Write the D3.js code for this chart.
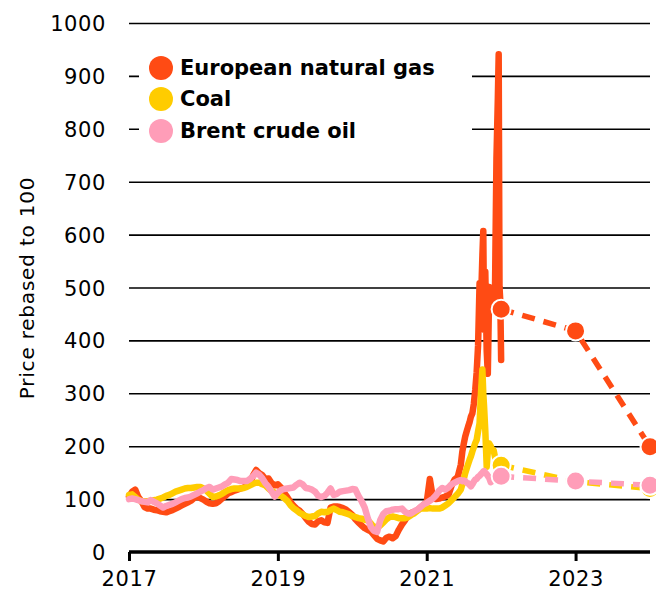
<!DOCTYPE html>
<html>
<head>
<meta charset="utf-8">
<script src="https://cdn.jsdelivr.net/npm/d3@7"></script>
<style>
  html, body { margin: 0; padding: 0; background: #fff; }
  svg { display: block; }
  text { font-family: "DejaVu Sans", sans-serif; fill: #000; }
</style>
</head>
<body>
<svg id="chart" width="656" height="592"></svg>
<script>
// ---- DATA ----
const seriesNames = ["European natural gas", "Coal", "Brent crude oil"];
const seriesColors = ["#ff4b14", "#ffcc00", "#ff9db8"];

// semi-monthly observations, Jan 2017 - mid 2021 (decimal years)
const datesSemi = [
  2017.000,2017.042,2017.083,2017.125,2017.167,2017.208,2017.250,2017.292,2017.333,2017.375,2017.417,2017.458,
  2017.500,2017.542,2017.583,2017.625,2017.667,2017.708,2017.750,2017.792,2017.833,2017.875,2017.917,2017.958,
  2018.000,2018.042,2018.083,2018.125,2018.167,2018.208,2018.250,2018.292,2018.333,2018.375,2018.417,2018.458,
  2018.500,2018.542,2018.583,2018.625,2018.667,2018.708,2018.750,2018.792,2018.833,2018.875,2018.917,2018.958,
  2019.000,2019.042,2019.083,2019.125,2019.167,2019.208,2019.250,2019.292,2019.333,2019.375,2019.417,2019.458,
  2019.500,2019.542,2019.583,2019.625,2019.667,2019.708,2019.750,2019.792,2019.833,2019.875,2019.917,2019.958,
  2020.000,2020.042,2020.083,2020.125,2020.167,2020.208,2020.250,2020.292,2020.333,2020.375,2020.417,2020.458,
  2020.500,2020.542,2020.583,2020.625,2020.667,2020.708,2020.750,2020.792,2020.833,2020.875,2020.917,2020.958,
  2021.000,2021.042,2021.083,2021.125,2021.167,2021.208,2021.250,2021.292,2021.333,2021.375,2021.417,2021.458
];
// weekly observations, mid 2021 - end 2021
const datesWeekly = [
  2021.479,2021.498,2021.517,2021.537,2021.556,2021.575,2021.594,2021.613,2021.633,2021.652,
  2021.671,2021.690,2021.710,2021.729,2021.748,2021.760,2021.771,2021.787,2021.806,2021.821,
  2021.840,2021.860,2021.879,2021.898,2021.917,2021.937,2021.956,2021.967,2021.978,2021.989,2022.000
];

const gasSemi = [
  105,114,118,104,96,85,82,82,80,79,77,76,
  75,77,79,82,85,88,91,94,97,102,105,102,
  99,95,92,91,92,96,101,106,111,113,116,118,
  120,122,125,128,145,155,149,145,138,139,130,126,
  128,122,112,104,95,88,82,78,72,64,57,53,
  52,58,60,56,55,84,86,86,85,83,80,75,
  70,62,56,50,45,42,39,32,25,22,20,27,
  29,26,30,42,52,60,70,74,76,79,84,89,
  94,138,102,100,101,103,105,108,125,137,142,165
];
const gasWeekly = [
  190,205,218,228,237,245,256,262,280,306,
  340,390,508,470,560,607,420,530,380,337,
  501,470,494,470,490,744,860,941,501,473,363
];

const coalSemi = [
  108,109,104,99,96,96,96,97,98,99,101,103,
  106,108,111,114,116,118,120,121,121,122,123,123,
  120,116,110,104,105,107,110,114,117,119,120,120,
  120,121,123,126,129,131,131,128,126,120,115,112,
  108,106,102,97,89,83,79,74,71,68,66,67,
  68,73,76,75,76,79,82,79,76,75,73,71,
  68,66,64,63,61,60,54,46,48,50,56,62,
  66,67,66,64,64,64,66,70,73,78,82,82,
  82,83,82,82,82,84,88,92,98,104,110,118
];
const coalWeekly = [
  128,138,149,158,166,174,181,190,198,206,
  212,228,243,300,345,300,274,230,161,190,
  205,200,193,193,180,174,170,168,166,166,165
];

const brentSemi = [
  100,101,100,98,96,95,94,98,95,92,88,84,
  87,89,91,94,97,100,102,103,105,108,111,114,
  117,121,123,118,120,122,124,128,131,138,137,136,
  134,134,134,138,143,150,146,139,130,123,114,105,
  112,117,119,120,121,122,127,131,128,121,120,118,
  114,106,104,106,112,120,108,110,114,115,116,117,
  119,118,106,96,84,64,47,40,38,60,72,77,
  78,80,81,81,82,76,73,73,77,80,85,90,
  93,97,101,107,116,121,118,122,128,131,134,136
];
const brentWeekly = [
  134,135,134,131,130,127,124,128,133,137,
  138,142,144,147,150,152,153,150,147,144,
  140,132,134,137,140,141,142,142,143,143,143
];

// forecasts (dashed, with markers)
const forecastYears = [2022, 2023, 2024];
const gasForecast = [459, 418, 199];
const coalForecast = [164, 133, 120];
const brentForecast = [143, 134, 126];

const yTicks = [0, 100, 200, 300, 400, 500, 600, 700, 800, 900, 1000];
const xTicks = [2017, 2019, 2021, 2023];
const yTitle = "Price rebased to 100";

// ---- BUILD ----
const dates = datesSemi.concat(datesWeekly);
const histories = [gasSemi.concat(gasWeekly), coalSemi.concat(coalWeekly), brentSemi.concat(brentWeekly)];
const forecasts = [gasForecast, coalForecast, brentForecast];

const svg = d3.select("#chart");
const x = d3.scaleLinear().domain([2017, 2024]).range([129, 650]);
const y = d3.scaleLinear().domain([0, 1000]).range([552, 23]);

// gridlines + y labels
const yAxis = svg.append("g")
  .attr("transform", `translate(${x(2017)},0)`)
  .call(d3.axisLeft(y).tickValues(yTicks).tickSize(-(x(2024) - x(2017))).tickPadding(23).tickFormat(d3.format("d")));
yAxis.select(".domain").remove();
yAxis.selectAll(".tick line").attr("stroke", "#000").attr("stroke-width", 1.6)
  .attr("display", d => d === 0 ? "none" : null);
yAxis.selectAll(".tick text").attr("font-size", 21).attr("letter-spacing", 0.6)
  .attr("font-family", "DejaVu Sans").attr("fill", "#000").attr("dy", "0.36em");

// legend background (masks gridlines)
svg.append("rect").attr("x", 139).attr("y", 48).attr("width", 333).attr("height", 104).attr("fill", "#fff");

// x axis
const xAxis = svg.append("g")
  .attr("transform", `translate(0,${y(0)})`)
  .call(d3.axisBottom(x).tickValues(xTicks).tickSize(9).tickPadding(10).tickFormat(d3.format("d")));
xAxis.select(".domain").attr("stroke", "#000").attr("stroke-width", 3.5).attr("d", `M${x(2017)},0H${x(2024)}`);
xAxis.selectAll(".tick line").attr("stroke", "#000").attr("stroke-width", 3);
xAxis.selectAll(".tick text").attr("font-size", 21).attr("letter-spacing", 0.6)
  .attr("font-family", "DejaVu Sans").attr("fill", "#000");

// y title
svg.append("text")
  .attr("transform", `translate(34,288) rotate(-90)`)
  .attr("text-anchor", "middle")
  .attr("font-size", 20)
  .attr("letter-spacing", 0.8)
  .text(yTitle);

// history lines
const line = d3.line().x(d => x(d[0])).y(d => y(d[1])).curve(d3.curveLinear);
histories.forEach((vals, k) => {
  svg.append("path")
    .datum(dates.map((t, i) => [t, vals[i]]))
    .attr("d", line)
    .attr("fill", "none")
    .attr("stroke", seriesColors[k])
    .attr("stroke-width", 6.5)
    .attr("stroke-linejoin", "round")
    .attr("stroke-linecap", "round");
});

// forecast dashed lines
forecasts.forEach((vals, k) => {
  svg.append("path")
    .datum(forecastYears.map((t, i) => [t, vals[i]]))
    .attr("d", line)
    .attr("fill", "none")
    .attr("stroke", seriesColors[k])
    .attr("stroke-width", 5.5)
    .attr("stroke-dasharray", "13,9");
});

// forecast markers
forecasts.forEach((vals, k) => {
  svg.append("g").selectAll("circle")
    .data(forecastYears.map((t, i) => [t, vals[i]]))
    .join("circle")
    .attr("cx", d => x(d[0]))
    .attr("cy", d => y(d[1]))
    .attr("r", 9.5)
    .attr("fill", seriesColors[k])
    .attr("stroke", "#fff")
    .attr("stroke-width", 2);
});

// legend
const legendY = [68, 99, 131];
seriesNames.forEach((name, k) => {
  svg.append("circle").attr("cx", 161).attr("cy", legendY[k]).attr("r", 12).attr("fill", seriesColors[k]);
  svg.append("text")
    .attr("x", 180).attr("y", legendY[k] + 7)
    .attr("font-size", 21)
    .attr("font-weight", "bold")
    .text(name);
});
</script>
</body>
</html>
